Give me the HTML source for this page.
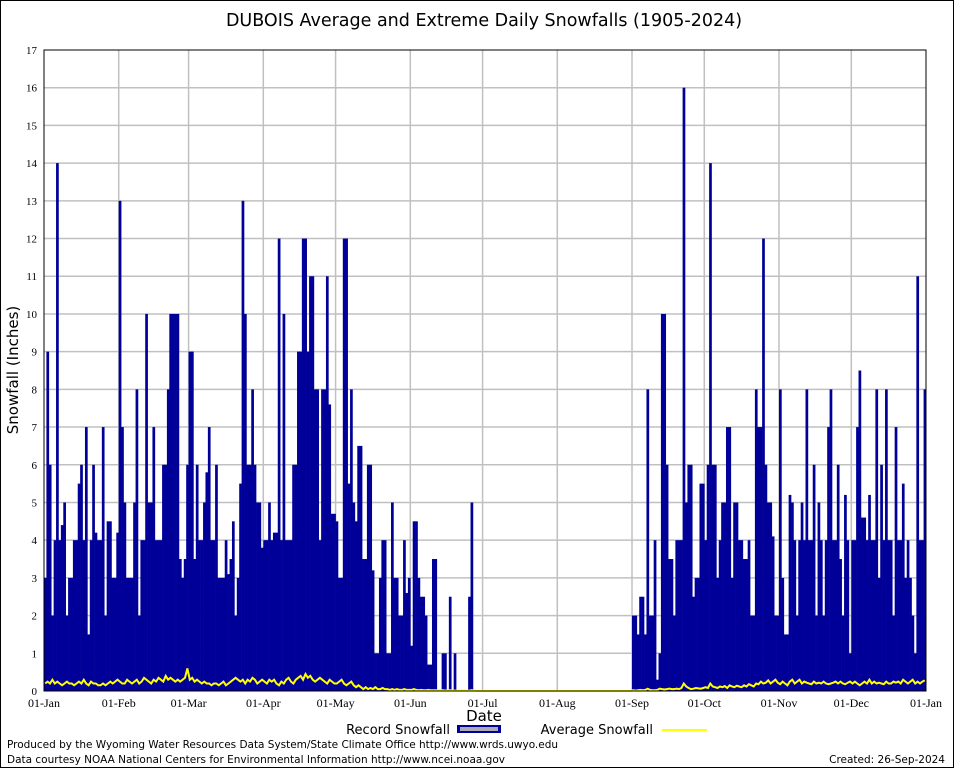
<!DOCTYPE html>
<html><head><meta charset="utf-8"><style>
body{margin:0;background:#fff;}
svg{display:block;}
</style></head><body>
<svg id="chart" width="954" height="768" xmlns="http://www.w3.org/2000/svg">
<rect x="0.5" y="0.5" width="953" height="767" fill="#fff" stroke="#000"/>
<text x="484" y="26" text-anchor="middle" font-family="DejaVu Sans, Liberation Sans, sans-serif" font-size="17.5">DUBOIS Average and Extreme Daily Snowfalls (1905-2024)</text>
<g id="grid"></g>
<g id="bars"></g>
<polyline id="avgline" fill="none" stroke="#ffff00" stroke-width="2"/>
<rect x="44" y="50" width="882" height="641" fill="none" stroke="#000"/>
<g id="yticks" font-family="Liberation Serif, serif" font-size="11"></g>
<g id="xticks" font-family="Liberation Serif, serif" font-size="12"></g>
<text transform="translate(18,370) rotate(-90)" text-anchor="middle" font-family="DejaVu Sans, Liberation Sans, sans-serif" font-size="15">Snowfall (Inches)</text>
<text x="484" y="721" text-anchor="middle" font-family="DejaVu Sans, Liberation Sans, sans-serif" font-size="15">Date</text>
<g font-family="DejaVu Sans, Liberation Sans, sans-serif" font-size="13">
<text x="450" y="734" text-anchor="end">Record Snowfall</text>
<rect x="457" y="725" width="44" height="8" fill="#000099"/>
<rect x="460" y="727" width="38" height="4" fill="#aab"/>
<text x="653" y="734" text-anchor="end">Average Snowfall</text>
<line x1="662" y1="730" x2="707" y2="730" stroke="#ffff00" stroke-width="2"/>
</g>
<g font-family="DejaVu Sans, Liberation Sans, sans-serif" font-size="10.5">
<text x="7" y="748" textLength="551">Produced by the Wyoming Water Resources Data System/State Climate Office http://www.wrds.uwyo.edu</text>
<text x="7" y="763" textLength="498">Data courtesy NOAA National Centers for Environmental Information http://www.ncei.noaa.gov</text>
<text x="945" y="763" text-anchor="end">Created: 26-Sep-2024</text>
</g>
</svg>
<script>
const monthLabels=["01-Jan","01-Feb","01-Mar","01-Apr","01-May","01-Jun","01-Jul","01-Aug","01-Sep","01-Oct","01-Nov","01-Dec","01-Jan"];
const monthStarts=[0,31,60,91,121,152,182,213,244,274,305,335,366];
const yTicks=[0,1,2,3,4,5,6,7,8,9,10,11,12,13,14,15,16,17];
const recJan=[3,9,6,2,4,14,4,4.4,5,2,3,3,4,4,5.5,6,4,7,1.5,4,6,4.2,4,4,7,2,4.5,4.5,3,3,4.2];
const recFeb=[13,7,5,3,3,3,5,8,2,4,4,10,5,5,7,4,4,4,6,6,8,10,10,10,10,3.5,3,3.5,6];
const recMar=[9,9,3.5,6,4,4,5,5.8,7,4,4,6,3,3,3,4,3.1,3.5,4.5,2,3,5.5,13,10,6,6,8,6,5,5,3.8];
const recApr=[4,4,5,4,4.2,4.2,12,4,10,4,4,4,6,6,9,9,12,12,9,11,11,8,8,4,8,8,11,7.6,4.7,4.7];
const recMay=[4.5,3,3,12,12,5.5,8,5,4.5,6.5,6.5,3.5,3.5,6,6,3.2,1,1,3,4,4,1,1,5,3,3,2,2,4,2.6,3];
const recJun=[1.2,4.5,4.5,3,2.5,2.5,2,0.7,0.7,3.5,3.5,0,0,1,1,0,2.5,0,1,0,0,0,0,0,2.5,5,0,0,0,0];
const recJul=[0,0,0,0,0,0,0,0,0,0,0,0,0,0,0,0,0,0,0,0,0,0,0,0,0,0,0,0,0,0,0];
const recAug=[0,0,0,0,0,0,0,0,0,0,0,0,0,0,0,0,0,0,0,0,0,0,0,0,0,0,0,0,0,0,0];
const recSep=[2,2,1.5,2.5,2.5,1.5,8,2,2,4,0.3,1,10,10,6,3.5,3.5,2,4,4,4,16,5,6,6,2.5,3,3,5.5,5.5];
const recOct=[4,6,14,6,6,3,4,5,5,7,7,3,5,5,4,4,3.5,3.5,4,2,2,8,7,7,12,6,5,5,4.1,2,2];
const recNov=[8,3,1.5,1.5,5.2,5,4,2,4,5,4,8,4,4,6,2,5,4,2,4,7,8,4,4,6,3.5,2,5.2,4,1];
const recDec=[4,4,7,8.5,4.6,4.6,4,5.2,4,4,8,3,6,4,8,4,4,2,7,4,4,5.5,3,4,3,2,1,11,4,4,8];
const avgJan=[.2,.25,.2,.3,.2,.25,.2,.15,.2,.25,.2,.2,.15,.2,.25,.2,.3,.2,.15,.25,.2,.2,.15,.15,.2,.15,.2,.25,.2,.25,.3];
const avgFeb=[.25,.2,.2,.3,.25,.2,.25,.3,.2,.25,.35,.3,.25,.2,.3,.25,.35,.3,.25,.4,.3,.35,.3,.25,.3,.25,.3,.35,.6];
const avgMar=[.3,.35,.25,.3,.25,.2,.25,.2,.2,.15,.2,.2,.15,.2,.25,.15,.2,.25,.3,.35,.3,.25,.3,.2,.3,.25,.35,.3,.2,.25,.3];
const avgApr=[.25,.2,.3,.25,.3,.2,.15,.25,.2,.3,.35,.25,.2,.3,.35,.4,.3,.45,.35,.4,.3,.25,.3,.35,.3,.25,.2,.3,.25,.2];
const avgMay=[.2,.25,.3,.2,.15,.2,.25,.15,.1,.15,.1,.05,.1,.05,.08,.05,.1,.05,.05,.08,.05,.05,.03,.05,.03,.05,.03,.03,.05,.03,.03];
const avgJun=[.03,.05,.03,.02,.03,.02,.02,.03,.02,.02,.02,.02,.01,.02,.01,.02,.02,.01,.01,.01,.01,.01,.01,.01,.01,.02,.01,0,0,0];
const avgJul=[0,0,0,0,0,0,0,0,0,0,0,0,0,0,0,0,0,0,0,0,0,0,0,0,0,0,0,0,0,0,0];
const avgAug=[0,0,0,0,0,0,0,0,0,0,0,0,0,0,0,0,0,0,0,0,0,0,0,0,0,0,0,0,0,0,0];
const avgSep=[.02,.01,.02,.03,.02,.03,.06,.03,.02,.02,.03,.06,.05,.04,.05,.06,.05,.05,.06,.05,.08,.2,.12,.08,.05,.06,.08,.07,.06,.08];
const avgOct=[.1,.08,.2,.12,.1,.08,.12,.1,.13,.08,.15,.12,.1,.14,.12,.1,.15,.12,.18,.15,.12,.2,.18,.25,.2,.22,.28,.2,.25,.3,.22];
const avgNov=[.18,.25,.2,.15,.25,.3,.2,.25,.3,.2,.25,.22,.2,.18,.25,.2,.22,.2,.25,.2,.18,.2,.22,.25,.2,.25,.2,.18,.22,.25];
const avgDec=[.2,.25,.2,.15,.2,.25,.2,.3,.2,.25,.2,.22,.2,.18,.25,.2,.2,.25,.22,.25,.2,.3,.25,.2,.25,.3,.2,.25,.2,.25,.28];

const record=[].concat(recJan,recFeb,recMar,recApr,recMay,recJun,recJul,recAug,recSep,recOct,recNov,recDec);
const average=[].concat(avgJan,avgFeb,avgMar,avgApr,avgMay,avgJun,avgJul,avgAug,avgSep,avgOct,avgNov,avgDec);

const NS="http://www.w3.org/2000/svg";
const L=44,R=926,T=50,B=691,nDays=366,yMax=17;
const dayW=(R-L)/nDays;
function xScale(d){return L+d*dayW;}
function yScale(v){return B-(v/yMax)*(B-T);}
function mk(tag,attrs,parent){const e=document.createElementNS(NS,tag);for(const k in attrs)e.setAttribute(k,attrs[k]);parent.appendChild(e);return e;}

const grid=document.getElementById('grid'),yt=document.getElementById('yticks'),xt=document.getElementById('xticks');
yTicks.forEach(v=>{
  const y=yScale(v);
  if(v>0&&v<yMax){const g=mk('line',{x1:L,x2:R,y1:y,y2:y,stroke:'#c0c0c0','stroke-width':1.5},grid);
  
  }
  const t=mk('text',{x:L-7,y:y+4,'text-anchor':'end'},yt);t.textContent=v;
  
  
});
monthStarts.forEach((d,i)=>{
  const x=xScale(d);
  if(i>0&&i<monthStarts.length-1){const g=mk('line',{x1:x,x2:x,y1:T,y2:B,stroke:'#c0c0c0','stroke-width':1.5},grid);
  
  }
  const t=mk('text',{x:x,y:B+16,'text-anchor':'middle'},xt);t.textContent=monthLabels[i];
  
  
});
const bars=document.getElementById('bars');
record.forEach((v,d)=>{
  if(v<=0)return;
  const y=yScale(v);
  const b=mk('rect',{x:xScale(d),y:y,width:dayW+0.3,height:B-y,fill:'#000099'},bars);
  
  
});
document.getElementById('avgline').setAttribute('points',average.map((v,d)=>(xScale(d)+dayW/2).toFixed(1)+','+yScale(v).toFixed(1)).join(' '));
</script>
</body></html>
